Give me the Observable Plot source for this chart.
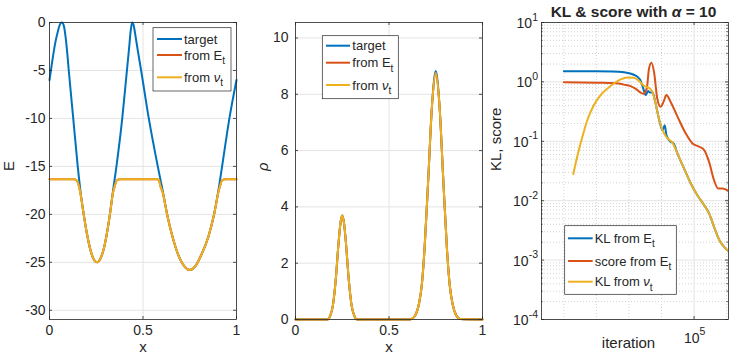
<!DOCTYPE html>
<html><head><meta charset="utf-8">
<script src="https://cdn.jsdelivr.net/npm/d3@7"></script>
<script src="https://cdn.jsdelivr.net/npm/@observablehq/plot@0.6"></script>
<style>
body{margin:0;background:#fff}
#wrap{position:relative;width:747px;height:360px;overflow:hidden;background:#fff}
</style>
</head><body><div id="wrap"></div>
<script>
// ---------- Panel 1 data: E(x) ----------
const targetX1 = [0,0.015,0.03,0.045,0.056,0.066,0.076,0.086,0.095,0.103,0.127,0.151,0.167,0.183,0.2,0.22,0.24,0.255,0.27,0.29,0.305,0.323,0.34,0.358,0.389,0.413,0.425,0.434,0.442,0.45,0.459,0.472,0.49,0.531,0.579,0.605,0.629,0.66,0.69,0.72,0.75,0.78,0.81,0.85,0.88,0.905,0.923,0.962,1];
const targetE1 = [-6,-4,-2.2,-0.9,-0.2,0,-0.3,-1.5,-3.2,-5,-10,-15,-17.8,-20,-22,-23.8,-24.8,-25,-24.7,-23.6,-22.2,-20,-17.5,-15,-10,-5.2,-2.8,-0.9,0,-0.3,-1.3,-2.9,-5,-10,-15,-17.5,-20,-22.5,-24.3,-25.4,-25.8,-25.4,-24.3,-22.3,-20,-17.3,-15,-10,-6];
const fitX1 = [0,0.13,0.145,0.157,0.167,0.183,0.2,0.22,0.24,0.255,0.27,0.29,0.305,0.323,0.34,0.349,0.36,0.375,0.575,0.585,0.593,0.605,0.629,0.66,0.69,0.72,0.75,0.78,0.81,0.85,0.88,0.905,0.912,0.923,0.94,1];
const fromE_E1  = [-16.35,-16.35,-16.45,-17.05,-18.0,-20.03,-22,-23.8,-24.8,-25,-24.7,-23.6,-22.2,-20.03,-17.7,-17.05,-16.45,-16.35,-16.35,-16.45,-17.05,-17.7,-20.02,-22.5,-24.3,-25.4,-25.8,-25.4,-24.3,-22.3,-20.02,-17.55,-17.05,-16.45,-16.35,-16.35];
const fromNu_E1 = [-16.35,-16.35,-16.45,-17.05,-18.0,-20.03,-22,-23.8,-24.8,-25,-24.7,-23.6,-22.2,-20.03,-17.7,-17.05,-16.45,-16.35,-16.35,-16.45,-17.05,-17.7,-20.02,-22.5,-24.3,-25.4,-25.8,-25.4,-24.3,-22.3,-20.02,-17.55,-17.05,-16.45,-16.35,-16.35];
const xTicks1 = [0, 0.5, 1];
const yTicks1 = [-30, -25, -20, -15, -10, -5, 0];
const legend1 = ["target", "from E_t", "from ν_t"];

// ---------- Panel 2 data: rho(x) ----------
const rhoX2 = [0,0.17,0.185,0.2,0.215,0.23,0.24,0.25,0.26,0.27,0.285,0.3,0.315,0.33,0.6,0.62,0.64,0.66,0.675,0.69,0.71,0.73,0.75,0.77,0.79,0.81,0.825,0.84,0.86,0.88,1];
const targetRho2 = [0,0,0.12,0.5,1.4,2.7,3.4,3.69,3.4,2.7,1.4,0.5,0.12,0,0,0.02,0.14,0.55,1.2,2.5,5.0,7.6,8.83,7.6,5.0,2.5,1.2,0.55,0.14,0.02,0];
const fromERho2  = [0,0,0.12,0.5,1.4,2.7,3.4,3.69,3.4,2.7,1.4,0.5,0.12,0,0,0.02,0.14,0.55,1.2,2.5,5.0,7.6,8.76,7.6,5.0,2.5,1.2,0.55,0.14,0.02,0];
const fromNuRho2 = [0,0,0.12,0.5,1.4,2.7,3.4,3.69,3.4,2.7,1.4,0.5,0.12,0,0,0.02,0.14,0.55,1.2,2.5,5.0,7.6,8.76,7.6,5.0,2.5,1.2,0.55,0.14,0.02,0];
const xTicks2 = [0, 0.5, 1];
const yTicks2 = [0, 2, 4, 6, 8, 10];
const legend2 = ["target", "from E_t", "from ν_t"];

// ---------- Panel 3 data: KL & score vs iteration ----------
const klEIter = [10,100,316,708,1413,2188,2754,3273,3846,4467,5248,6607,8318,10715,12589,14125,18197,23442,30903,48978,79433,125893,204174,288403,412098,588844,831764,1202264];
const klE     = [1.51,1.51,1.50,1.45,1.32,1.10,0.77,0.60,0.70,0.66,0.67,0.43,0.24,0.154,0.187,0.127,0.100,0.092,0.062,0.035,0.0195,0.0124,0.0084,0.0061,0.0036,0.0022,0.00167,0.00138];
const scoreIter = [10,100,216,398,708,1122,1585,2291,2754,3508,4130,4898,5888,7413,9441,11482,14125,19055,30903,55590,89125,142889,204174,288403,412098,549541,741310,1148154];
const scoreE    = [0.99,0.97,0.96,0.95,0.90,0.85,0.77,0.66,0.63,0.77,1.68,2.10,1.47,0.52,0.38,0.46,0.60,0.46,0.26,0.135,0.092,0.081,0.071,0.045,0.022,0.016,0.016,0.0145];
const klNuIter = [19.5,25.7,37.2,52.5,83.2,135,216,347,556,891,1413,2042,2884,4130,5248,6607,8318,10715,15136,21627,30903,48978,79433,125893,204174,288403,412098,588844,831764,1202264];
const klNu     = [0.028,0.055,0.119,0.226,0.405,0.60,0.77,0.94,1.10,1.19,1.17,1.04,0.86,0.79,0.68,0.43,0.24,0.154,0.112,0.095,0.062,0.035,0.0195,0.0124,0.0084,0.0061,0.0036,0.0022,0.00167,0.00138];
const yTicks3 = [1e-4, 1e-3, 1e-2, 1e-1, 1, 10];
const yTickLabels3 = ["-4", "-3", "-2", "-1", "0", "1"];
const xTicks3 = [1e5];
const xTickLabels3 = ["5"];
const xMinorGrid3 = [10, 100, 1000, 1e4, 1e6];
const legend3 = ["KL from E_t", "score from E_t", "KL from ν_t"];
const title3 = "KL & score with α = 10";

// ---------- styling ----------
const BLUE = "#0072BD", RED = "#D95319", YEL = "#EDB120";
const AX = "#262626", GRID = "#e4e4e4", MINOR = "#d4d4d4";
const FONT = "'Liberation Sans', Arial, Helvetica, sans-serif";
const FW = 187, FH = 297, TL = 3;
const wrap = document.getElementById("wrap");

function styleStr() {
  return `background:transparent;overflow:visible;font-family:${FONT};color:${AX};position:absolute;top:0;max-width:none;`;
}
function place(svg, left) { svg.style.left = left + "px"; wrap.appendChild(svg); }

function rich(t, lab) {
  const [base, sub] = lab.split("_");
  base.split(/(ν|α)/).forEach(p => {
    if (!p) return;
    const s = t.append("tspan").text(p);
    if (p === "ν" || p === "α") s.attr("font-style", "italic");
  });
  if (sub) t.append("tspan").attr("dy", 4.5).attr("font-size", 10).text(sub);
}
function legend(svg, box, rows, lx, tx, labels, colors) {
  const g = d3.select(svg).append("g").attr("font-size", 13).attr("fill", AX)
    .attr("font-family", FONT).attr("text-anchor", "start");
  g.append("rect").attr("x", box[0]).attr("y", box[1]).attr("width", box[2]).attr("height", box[3])
    .attr("fill", "white").attr("stroke", AX).attr("stroke-width", 0.7);
  labels.forEach((lab, i) => {
    g.append("line").attr("x1", lx[0]).attr("x2", lx[1]).attr("y1", rows[i]).attr("y2", rows[i])
      .attr("stroke", colors[i]).attr("stroke-width", 2);
    rich(g.append("text").attr("x", tx).attr("y", rows[i] + 4.5).attr("text-anchor", "start"), lab);
  });
}
function frameTicksX(ticks, fh) {
  return [Plot.ruleX(ticks, {stroke: AX, strokeWidth: 0.8, insetTop: fh - TL}),
          Plot.ruleX(ticks, {stroke: AX, strokeWidth: 0.8, insetBottom: fh - TL})];
}
function frameTicksY(ticks, fw) {
  return [Plot.ruleY(ticks, {stroke: AX, strokeWidth: 0.8, insetRight: fw - TL}),
          Plot.ruleY(ticks, {stroke: AX, strokeWidth: 0.8, insetLeft: fw - TL})];
}

// ---------- Panel 1 ----------
const p1 = Plot.plot({
  width: 249, height: 360, marginLeft: 49, marginRight: 13, marginTop: 22, marginBottom: 41,
  style: styleStr(),
  x: {domain: [0, 1], axis: null},
  y: {domain: [-30.96, 0], axis: null},
  marks: [
    Plot.ruleX(xTicks1, {stroke: GRID}),
    Plot.ruleY(yTicks1, {stroke: GRID}),
    Plot.line(targetE1, {x: targetX1, y: targetE1, stroke: BLUE, strokeWidth: 2, curve: "monotone-x"}),
    Plot.line(fromE_E1, {x: fitX1, y: fromE_E1, stroke: RED, strokeWidth: 2, curve: "monotone-x"}),
    Plot.line(fromNu_E1, {x: fitX1, y: fromNu_E1, stroke: YEL, strokeWidth: 2, curve: "monotone-x"}),
    Plot.frame({stroke: AX, strokeWidth: 0.8}),
    ...frameTicksX(xTicks1, FH), ...frameTicksY(yTicks1, FW),
    Plot.text(xTicks1, {x: d => d, text: d => String(d), frameAnchor: "bottom", dy: 15, fontSize: 14, fill: AX}),
    Plot.text(yTicks1, {y: d => d, text: d => String(d), frameAnchor: "left", dx: -4, textAnchor: "end", fontSize: 14, fill: AX}),
    Plot.text(["x"], {frameAnchor: "bottom", dy: 32.5, fontSize: 15, fill: AX}),
    Plot.text(["E"], {frameAnchor: "left", dx: -40.5, rotate: -90, fontSize: 15, fill: AX})
  ]
});
place(p1, 0);
legend(p1, [153, 27.7, 78, 63.3], [39, 55, 77.3], [157, 182], 184, legend1, [BLUE, RED, YEL]);

// ---------- Panel 2 ----------
const p2 = Plot.plot({
  width: 249, height: 360, marginLeft: 46, marginRight: 16, marginTop: 22, marginBottom: 41,
  style: styleStr(),
  x: {domain: [0, 1], axis: null},
  y: {domain: [0, 10.55], axis: null},
  marks: [
    Plot.ruleX(xTicks2, {stroke: GRID}),
    Plot.ruleY(yTicks2, {stroke: GRID}),
    Plot.line(targetRho2, {x: rhoX2, y: targetRho2, stroke: BLUE, strokeWidth: 2, curve: "monotone-x"}),
    Plot.line(fromERho2, {x: rhoX2, y: fromERho2, stroke: RED, strokeWidth: 2, curve: "monotone-x"}),
    Plot.line(fromNuRho2, {x: rhoX2, y: fromNuRho2, stroke: YEL, strokeWidth: 2, curve: "monotone-x"}),
    Plot.frame({stroke: AX, strokeWidth: 0.8}),
    ...frameTicksX(xTicks2, FH), ...frameTicksY(yTicks2, FW),
    Plot.text(xTicks2, {x: d => d, text: d => String(d), frameAnchor: "bottom", dy: 15, fontSize: 14, fill: AX}),
    Plot.text(yTicks2, {y: d => d, text: d => String(d), frameAnchor: "left", dx: -7, textAnchor: "end", fontSize: 14, fill: AX}),
    Plot.text(["x"], {frameAnchor: "bottom", dy: 32.5, fontSize: 15, fill: AX}),
    Plot.text(["ρ"], {frameAnchor: "left", dx: -32, rotate: -90, fontSize: 15, fontStyle: "italic", fill: AX})
  ]
});
place(p2, 249);
legend(p2, [73.3, 35.7, 76, 63], [45.7, 62.7, 85], [77, 101], 103.3, legend2, [BLUE, RED, YEL]);

// ---------- Panel 3 ----------
const yMinor3 = d3.scaleLog().domain([1e-4, 10]).ticks().filter(v => !yTicks3.includes(v));
const p3 = Plot.plot({
  width: 277, height: 360, marginLeft: 71, marginRight: 19, marginTop: 22, marginBottom: 41,
  style: styleStr(),
  x: {type: "log", domain: [2.06, 1.14e6], axis: null},
  y: {type: "log", domain: [1e-4, 10], axis: null},
  marks: [
    Plot.ruleY(yMinor3, {stroke: MINOR, strokeDasharray: "1,2"}),
    Plot.ruleX(xMinorGrid3, {stroke: MINOR, strokeDasharray: "1,2"}),
    Plot.ruleX(xTicks3, {stroke: GRID}),
    Plot.ruleY(yTicks3, {stroke: GRID}),
    Plot.line(klE, {x: klEIter, y: klE, stroke: BLUE, strokeWidth: 2, curve: "monotone-x", clip: true}),
    Plot.line(scoreE, {x: scoreIter, y: scoreE, stroke: RED, strokeWidth: 2, curve: "monotone-x", clip: true}),
    Plot.line(klNu, {x: klNuIter, y: klNu, stroke: YEL, strokeWidth: 2, curve: "monotone-x", clip: true}),
    Plot.frame({stroke: AX, strokeWidth: 0.8}),
    ...frameTicksX(xTicks3, FH), ...frameTicksY(yTicks3, FW),
    Plot.ruleY(yMinor3, {stroke: AX, strokeWidth: 0.6, insetRight: FW - 1.8}),
    Plot.ruleY(yMinor3, {stroke: AX, strokeWidth: 0.6, insetLeft: FW - 1.8}),
    Plot.text(["iteration"], {frameAnchor: "bottom", dy: 28, dx: -6.5, fontSize: 15, fill: AX}),
    Plot.text(["KL, score"], {frameAnchor: "left", dx: -45, rotate: -90, fontSize: 15, fill: AX})
  ]
});
place(p3, 470);
{
  const sx = p3.scale("x"), sy = p3.scale("y");
  const g = d3.select(p3).append("g").attr("font-family", FONT).attr("font-size", 14).attr("fill", AX);
  yTicks3.forEach((v, i) => {
    const t = g.append("text").attr("x", 71 - 3).attr("y", sy.apply(v) + 6).attr("text-anchor", "end");
    t.append("tspan").text("10");
    t.append("tspan").attr("dy", -7.5).attr("font-size", 10.5).text(yTickLabels3[i]);
  });
  xTicks3.forEach((v, i) => {
    const t = g.append("text").attr("x", sx.apply(v) + 1).attr("y", 342.5).attr("text-anchor", "middle");
    t.append("tspan").text("10");
    t.append("tspan").attr("dy", -7.5).attr("font-size", 10.5).text(xTickLabels3[i]);
  });
  const tt = g.append("text").attr("x", 71 + FW / 2 - 1).attr("y", 16.5).attr("text-anchor", "middle")
    .attr("font-weight", "bold").attr("font-size", 15.5);
  rich(tt, title3);
}
legend(p3, [94.7, 225.7, 111.6, 68.6], [238.3, 261, 281.7], [98, 122.7], 124.7, legend3, [BLUE, RED, YEL]);
</script>
</body></html>
